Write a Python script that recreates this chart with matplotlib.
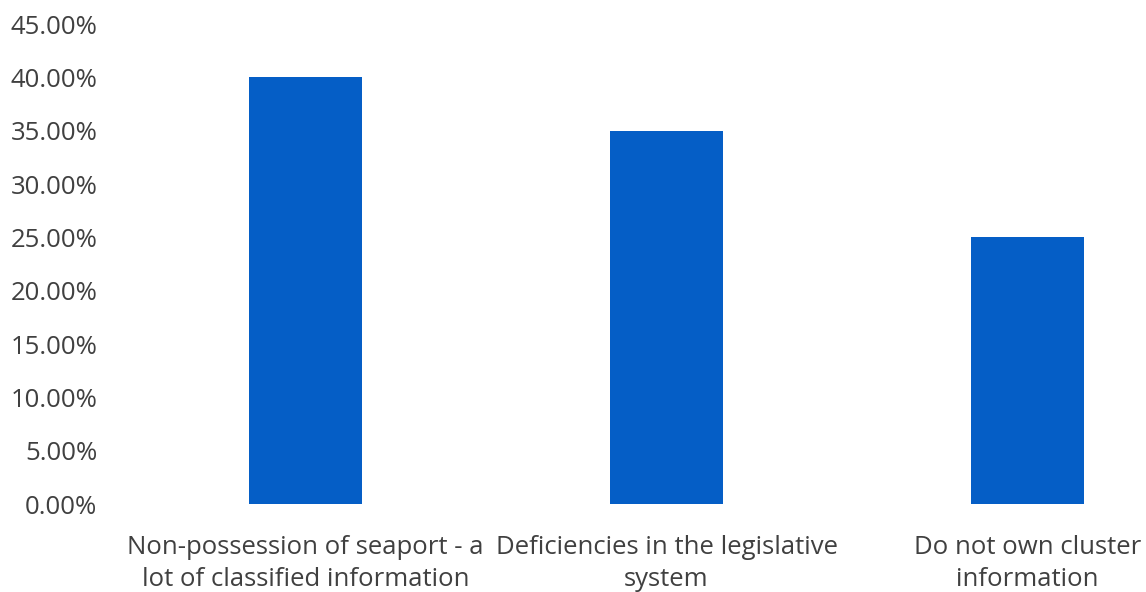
import matplotlib
matplotlib.use('Agg')
import matplotlib.pyplot as plt
from matplotlib.ticker import PercentFormatter

# values
categories = ['Non-possession of seaport - a\nlot of classified information',
              'Deficiencies in the legislative\nsystem',
              'Do not own cluster\ninformation']
shares = [0.40, 0.35, 0.25]
yticks = [0.0, 0.05, 0.10, 0.15, 0.20, 0.25, 0.30, 0.35, 0.40, 0.45]

plt.rcParams['font.family'] = ['Open Sans', 'DejaVu Sans']

W, H = 1146, 592
fig = plt.figure(figsize=(W / 100, H / 100), dpi=100)
# plot area is clipped on the right in the original
ax = fig.add_axes([125 / W, (H - 504) / H, (W - 125) / W, (504 - 24) / H])

ax.bar(range(len(categories)), shares, width=0.313, color='#055ec6')

ax.set_xlim(-0.5, (W - 125) / 361 - 0.5)
ax.set_ylim(0, 0.45)
ax.set_yticks(yticks)
ax.yaxis.set_major_formatter(PercentFormatter(1.0, decimals=2))
ax.set_xticks(range(len(categories)))
ax.set_xticklabels(categories, linespacing=1.37)

for s in ax.spines.values():
    s.set_visible(False)
ax.tick_params(axis='y', length=0, pad=20, labelsize=18.5, labelcolor='#404040')
ax.tick_params(axis='x', length=0, pad=22.5, labelsize=18.5, labelcolor='#404040')

fig.savefig('out.png', dpi=100)
